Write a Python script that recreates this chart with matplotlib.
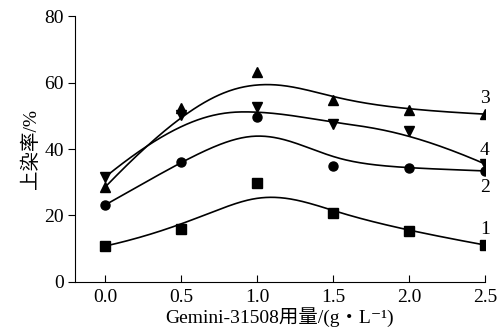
import numpy as np
import matplotlib.pyplot as plt

plt.rcParams['font.family'] = ['Liberation Serif', 'Noto Sans CJK SC', 'DejaVu Serif']

# Gemini-31508 dosage (g/L)
dose = [0.0, 0.5, 1.0, 1.5, 2.0, 2.5]

# dye uptake (%)
s1 = [10.8, 15.9, 29.8, 20.8, 15.3, 11.1]
s2 = [23.2, 36.1, 49.6, 34.9, 34.3, 33.4]
s3 = [28.6, 52.3, 63.2, 54.7, 51.7, 50.5]
s4 = [31.6, 50.2, 52.6, 47.5, 45.4, 35.5]

series = [s1, s2, s3, s4]
markers = ['s', 'o', '^', 'v']
labels = ['1', '2', '3', '4']
label_offset = [4.8, -5.1, 4.8, 4.2]


def bspline(px, py, k=3, num=300):
    # clamped uniform B-spline using the data points as control points
    n = len(px)
    knots = np.concatenate([np.zeros(k), np.arange(n - k + 1), np.full(k, n - k)]).astype(float)
    t = np.linspace(0, n - k, num)
    t[-1] -= 1e-9
    N = np.zeros((num, len(knots) - 1))
    for i in range(len(knots) - 1):
        N[:, i] = (knots[i] <= t) & (t < knots[i + 1])
    for d in range(1, k + 1):
        Nn = np.zeros((num, len(knots) - 1 - d))
        for i in range(len(knots) - 1 - d):
            a = 0.0
            b = 0.0
            if knots[i + d] != knots[i]:
                a = (t - knots[i]) / (knots[i + d] - knots[i]) * N[:, i]
            if knots[i + d + 1] != knots[i + 1]:
                b = (knots[i + d + 1] - t) / (knots[i + d + 1] - knots[i + 1]) * N[:, i + 1]
            Nn[:, i] = a + b
        N = Nn
    return N @ np.asarray(px), N @ np.asarray(py)


fig = plt.figure(figsize=(5, 3.36), dpi=100)
ax = fig.add_axes([0.15, 0.161, 0.82, 0.791])

for ys, m, lab, off in zip(series, markers, labels, label_offset):
    ax.plot(dose, ys, linestyle='none', marker=m, color='black', markersize=6.5)
    cx, cy = bspline(dose, ys)
    ax.plot(cx, cy, color='black', linewidth=1.2)
    ax.text(dose[-1], ys[-1] + off, lab, fontsize=14, ha='center', va='center')

ax.set_xlim(-0.2, 2.5)
ax.set_ylim(0, 80)
ax.set_xticks(dose)
ax.set_xticklabels(['0.0', '0.5', '1.0', '1.5', '2.0', '2.5'])
ax.set_yticks([0, 20, 40, 60, 80])
ax.spines['top'].set_visible(False)
ax.spines['right'].set_visible(False)
ax.tick_params(axis='x', direction='in', length=5, labelsize=14, pad=5)
ax.tick_params(axis='y', direction='out', length=5, labelsize=14, pad=3)
ax.set_xlabel('Gemini-31508用量/(g・L⁻¹)', fontsize=14, labelpad=1)
ax.set_ylabel('上染率/%', fontsize=14, labelpad=3)

fig.savefig('out.png', dpi=100)
